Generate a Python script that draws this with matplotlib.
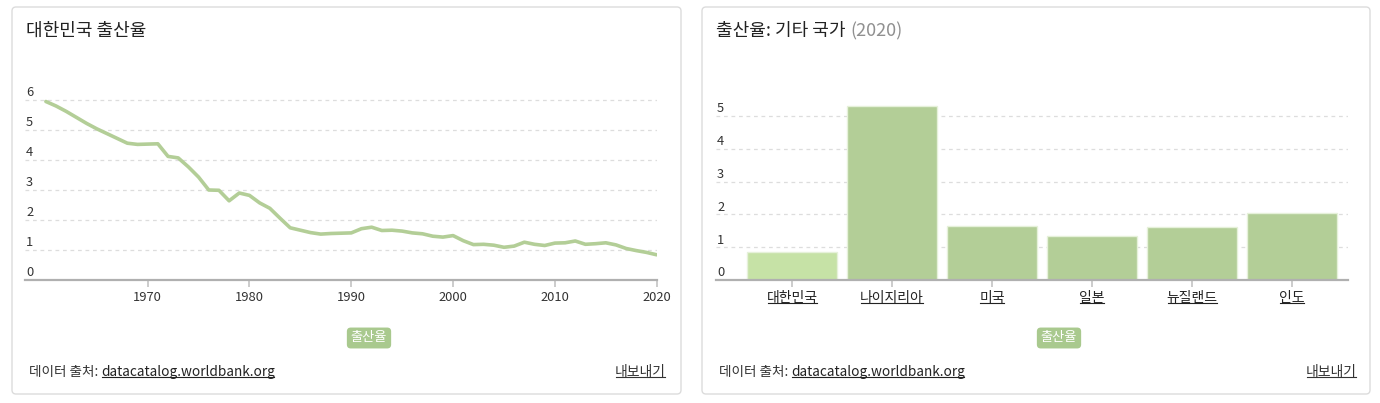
import matplotlib
matplotlib.use('Agg')
import matplotlib.pyplot as plt
from matplotlib.patches import FancyBboxPatch
from matplotlib.lines import Line2D
from matplotlib.transforms import IdentityTransform

plt.rcParams['font.family'] = ['Noto Sans CJK KR', 'DejaVu Sans']

# 대한민국 합계출산율 1960-2020
years = list(range(1960, 2021))
korea_tfr = [5.95, 5.80, 5.62, 5.42, 5.22, 5.04, 4.88, 4.72, 4.56, 4.52,
             4.53, 4.54, 4.12, 4.07, 3.77, 3.43, 3.00, 2.99, 2.64, 2.90,
             2.82, 2.57, 2.39, 2.06, 1.74, 1.66, 1.58, 1.53, 1.55, 1.56,
             1.57, 1.71, 1.76, 1.65, 1.66, 1.63, 1.57, 1.54, 1.46, 1.43,
             1.48, 1.31, 1.18, 1.19, 1.16, 1.09, 1.13, 1.26, 1.19, 1.15,
             1.23, 1.24, 1.30, 1.19, 1.21, 1.24, 1.17, 1.05, 0.98, 0.92,
             0.84]
year_ticks = [1970, 1980, 1990, 2000, 2010, 2020]

# 기타 국가 (2020)
countries = ['대한민국', '나이지리아', '미국', '일본', '뉴질랜드', '인도']
tfr_2020 = [0.84, 5.31, 1.64, 1.33, 1.61, 2.05]

W, H = 1380, 403
fig = plt.figure(figsize=(W / 100, H / 100), dpi=100)
px = IdentityTransform()

GREEN = '#b3ce97'
GRID = '#dddddd'
TEXT = '#333333'


def px_axes(x0, y0, x1, y1):
    # pixel box with top-left origin
    return fig.add_axes([x0 / W, 1 - y1 / H, (x1 - x0) / W, (y1 - y0) / H])


def card(x0, y0, x1, y1):
    p = FancyBboxPatch((x0, H - y1), x1 - x0, y1 - y0,
                       boxstyle='round,pad=0,rounding_size=4',
                       fc='white', ec='#dcdcdc', lw=1, transform=px, zorder=0)
    fig.add_artist(p)


def ftext(x, y, s, **kw):
    return fig.text(x, H - y, s, transform=px, **kw)


def style_axes(ax, px_per_unit, yticks, x_left_px):
    for s in ['top', 'right', 'left']:
        ax.spines[s].set_visible(False)
    ax.spines['bottom'].set_color('#b0b0b0')
    ax.spines['bottom'].set_linewidth(1.6)
    ax.set_yticks(yticks)
    ax.yaxis.grid(True, color=GRID, linestyle=(0, (3, 3)), lw=0.9)
    ax.tick_params(axis='y', length=0, labelleft=False)
    ax.tick_params(axis='x', length=5, width=1.4, color='#cccccc',
                   labelsize=9.3, labelcolor=TEXT, pad=3)
    ax.set_axisbelow(True)
    ax.patch.set_alpha(0)
    for v in yticks:
        ax.text(x_left_px, v + 3.5 / px_per_unit, str(v), fontsize=9.3,
                color=TEXT, ha='left', va='baseline',
                transform=ax.get_yaxis_transform())


card(12, 7, 681, 394)
card(702, 7, 1370, 394)

# ---- 왼쪽: 선 그래프
axL = px_axes(25, 80, 657, 280)
axL.set_xlim(1957.95, 2020.03)
axL.set_ylim(0, 200 / 30)
axL.plot(years, korea_tfr, color=GREEN, lw=2.6, solid_joinstyle='round',
         solid_capstyle='round')
style_axes(axL, 30, [0, 1, 2, 3, 4, 5, 6], 1 / 632)
axL.set_xticks(year_ticks)
axL.set_xticklabels([str(y) for y in year_ticks])

# ---- 오른쪽: 막대 그래프
axR = px_axes(716, 80, 1348, 280)
axR.set_xlim(-0.76, 5.56)
axR.set_ylim(0, 200 / 32.8)
bar_colors = ['#c6e2a6'] + [GREEN] * (len(countries) - 1)
axR.bar(range(len(countries)), tfr_2020, width=0.9, color=bar_colors,
        edgecolor='#e6f1da', lw=1)
style_axes(axR, 32.8, [0, 1, 2, 3, 4, 5], 1 / 632)
axR.set_xticks(range(len(countries)))
axR.set_xticklabels(countries, fontsize=10, color='#222222')

# ---- 제목
ftext(26, 31, '대한민국 출산율', fontsize=13, color='#222222', va='center',
      fontweight='medium')
t_r = ftext(716, 31, '출산율: 기타 국가', fontsize=13, color='#222222',
            va='center', fontweight='medium')

# ---- 범례 배지
for cx in [369, 1059]:
    ftext(cx, 338, '출산율', fontsize=9.5, color='white', ha='center',
          va='center',
          bbox=dict(boxstyle='round,pad=0.3,rounding_size=0.3',
                    fc='#a9c98e', ec='none'))

# ---- 출처 / 내보내기
links = []
for x0, x1 in [(29, 666), (719, 1357)]:
    t0 = ftext(x0, 372, '데이터 출처: ', fontsize=9.8, color=TEXT,
               va='center')
    links.append((t0, 'datacatalog.worldbank.org'))
    links.append((ftext(x1, 372, '내보내기', fontsize=10, color=TEXT,
                        ha='right', va='center'), None))

fig.canvas.draw()
r = fig.canvas.get_renderer()

bb = t_r.get_window_extent(r)
fig.text(bb.x1 + 5, bb.y0 + bb.height / 2, '(2020)', transform=px,
         fontsize=13, color='#909090', va='center', fontweight='medium')

underlined = []
for t, follow in links:
    if follow is None:
        underlined.append((t, TEXT))
    else:
        b = t.get_window_extent(r)
        t2 = fig.text(b.x1, b.y0 + b.height / 2, follow, transform=px,
                      fontsize=9.8, color='#222222', va='center')
        underlined.append((t2, '#222222'))
for lab in axR.get_xticklabels():
    underlined.append((lab, '#222222'))
for t in fig.texts:
    if t.get_text() == '출산율' and t.get_color() == 'white':
        underlined.append((t, 'white'))

fig.canvas.draw()
for t, c in underlined:
    b = t.get_window_extent(r)
    y = b.y0 + 2.5
    fig.add_artist(Line2D([b.x0 + 1, b.x1 - 1], [y, y], color=c, lw=0.8,
                          transform=px))

fig.savefig('out.png', dpi=100)
